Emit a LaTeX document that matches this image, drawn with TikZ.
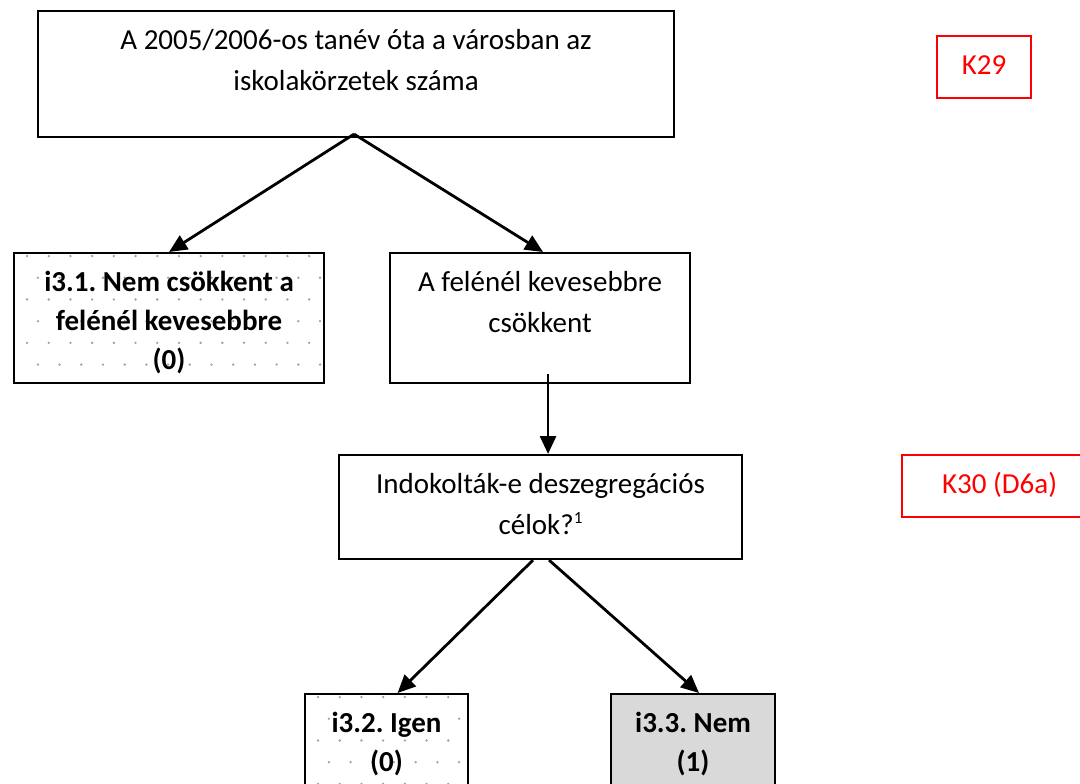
\documentclass[tikz,border=0pt]{standalone}
\usepackage{fontspec}
\setmainfont{Carlito}
\usetikzlibrary{arrows.meta}
\definecolor{dotc}{HTML}{A0A0A0}
\definecolor{nemfill}{HTML}{D9D9D9}
\newcommand\boxtext[3]{\parbox[t][#2][t]{#1}{\frenchspacing\centering\rule{0pt}{38pt}#3}}
\newcommand\supone{\raisebox{11pt}{\fontsize{17}{17}\selectfont 1}}
\tikzset{
  bx/.style={draw=black, line width=2.1pt, inner sep=0pt, fill=white,
             font=\fontsize{29}{41}\selectfont},
  bbx/.style={bx, font=\fontsize{29}{39}\selectfont\bfseries},
  redbx/.style={draw=red, line width=2.1pt, inner sep=0pt, text=red,
             font=\fontsize{29}{41}\selectfont},
  arr/.style={line width=2.8pt, -{Triangle[length=18pt,width=16pt]}},
  dotfill/.style={path picture={
    \foreach \r in {0,...,8}{\foreach \c in {0,...,16}{
      \pgfmathsetmacro\dx{13+21.7*\c+10.85*mod(\r,2)}
      \pgfmathsetmacro\dy{3+21.7*\r}
      \fill[dotc] ([xshift=\dx pt,yshift=-\dy pt]path picture bounding box.north west) circle[radius=1.3pt];
    }}}}
}
\begin{document}
\begin{tikzpicture}[x=1pt,y=-1pt]
\useasboundingbox (0,0) rectangle (1080,784);
\clip (0,0) rectangle (1080,784);
\fill[white] (0,0) rectangle (1080,784);

\node[bx, anchor=north west] (top) at (37,10)
  {\boxtext{636pt}{126pt}{A 2005/2006-os tanév óta a városban az\\iskolakörzetek száma}};
\node[bbx, dotfill, anchor=north west] (i31) at (13,252)
  {\boxtext{310pt}{130pt}{i3.1. Nem csökkent a\\felénél kevesebbre\\(0)}};
\node[bx, anchor=north west] (felen) at (389,252)
  {\boxtext{300pt}{130pt}{A felénél kevesebbre\\csökkent}};
\node[bx, anchor=north west] (indok) at (338,454)
  {\boxtext{403pt}{104pt}{Indokolták-e deszegregációs\\célok?\supone}};
\node[bbx, dotfill, anchor=north west] (i32) at (304,693)
  {\boxtext{163pt}{130pt}{i3.2. Igen\\(0)}};
\node[bbx, fill=nemfill, anchor=north west] (i33) at (610,693)
  {\boxtext{164pt}{130pt}{i3.3. Nem\\(1)}};

\node[redbx, anchor=north west] (k29) at (936,35)
  {\boxtext{94pt}{62pt}{K29}};
\node[redbx, anchor=north west] (k30) at (901,454)
  {\boxtext{195pt}{62pt}{K30 (D6a)}};

\draw[arr] ([xshift=-2pt,yshift=4pt]top.south) -- (i31.north);
\draw[arr] ([xshift=-2pt,yshift=4pt]top.south) -- ([xshift=3pt]felen.north);
\draw[arr] ([xshift=8pt,yshift=10pt]felen.south) -- ([xshift=7.5pt]indok.north);
\draw[arr] ([xshift=-7.5pt]indok.south) -- ([xshift=11pt]i32.north);
\draw[arr] ([xshift=8.5pt]indok.south) -- ([xshift=6pt]i33.north);
\end{tikzpicture}
\end{document}
